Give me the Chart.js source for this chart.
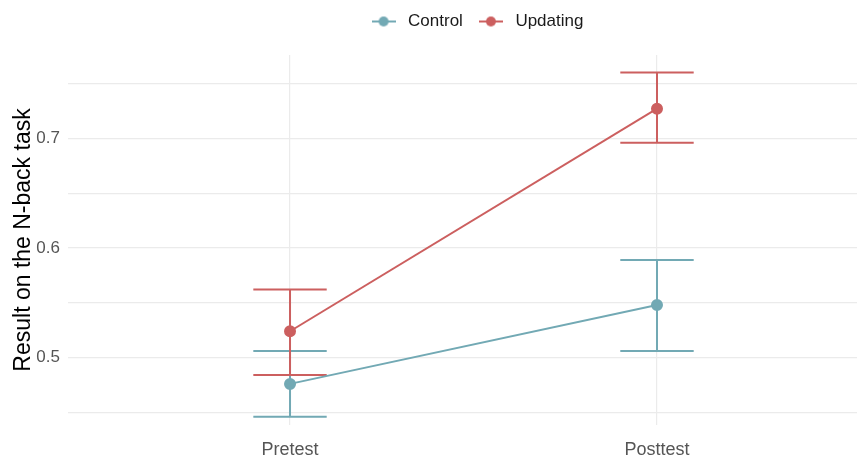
<!DOCTYPE html>
<html>
<head>
<meta charset="utf-8">
<script src="https://cdn.jsdelivr.net/npm/chart.js@4"></script>
<style>
  html, body { margin: 0; background: #fff; }
  #wrap { width: 864px; height: 458px; }
</style>
</head>
<body>
<div id="wrap"><canvas id="chart"></canvas></div>
<script>
const categories = ['Pretest', 'Posttest'];
const controlMean = [0.476, 0.548];
const controlLow = [0.446, 0.506];
const controlHigh = [0.506, 0.589];
const updatingMean = [0.524, 0.727];
const updatingLow = [0.484, 0.696];
const updatingHigh = [0.562, 0.760];
const yMajor = [0.5, 0.6, 0.7];
const yMinor = [0.45, 0.55, 0.65, 0.75];

const controlColor = '#72a9b4';
const updatingColor = '#cc5f5f';
const font = 'Liberation Sans, Arial, sans-serif';

// little line + dot used as legend key (like ggplot)
function legendKey(color) {
  const c = document.createElement('canvas');
  c.width = 24; c.height = 12;
  const g = c.getContext('2d');
  g.strokeStyle = color; g.lineWidth = 2;
  g.beginPath(); g.moveTo(0, 6); g.lineTo(24, 6); g.stroke();
  g.fillStyle = color;
  g.beginPath(); g.arc(12, 6, 5, 0, Math.PI * 2); g.fill();
  return c;
}

const errorBars = {
  id: 'errorBars',
  beforeDatasetsDraw(chart) {
    const ctx = chart.ctx;
    const xs = chart.scales.x, ys = chart.scales.y;
    chart.data.datasets.forEach((ds) => {
      ctx.save();
      ctx.strokeStyle = ds.borderColor;
      ctx.lineWidth = 2;
      ds.data.forEach((p, i) => {
        const x = xs.getPixelForValue(p.x);
        const half = xs.getPixelForValue(p.x + 0.1) - x;
        const yl = ys.getPixelForValue(ds.low[i]);
        const yh = ys.getPixelForValue(ds.high[i]);
        ctx.beginPath();
        ctx.moveTo(x, yl); ctx.lineTo(x, yh);
        ctx.moveTo(x - half, yl); ctx.lineTo(x + half, yl);
        ctx.moveTo(x - half, yh); ctx.lineTo(x + half, yh);
        ctx.stroke();
      });
      ctx.restore();
    });
  }
};

// extra room under the legend, and centre it over the panel like ggplot
const legendTweak = {
  id: 'legendTweak',
  beforeInit(chart) {
    const fit = chart.legend.fit;
    chart.legend.fit = function () {
      fit.call(this);
      this.height += 15;
    };
  },
  afterLayout(chart) {
    const lg = chart.legend;
    const shift = (chart.chartArea.left + chart.chartArea.right + 26) / 2 - (lg.left + lg.right) / 2;
    lg.left += shift;
    lg.right += shift;
  }
};

new Chart(document.getElementById('chart'), {
  type: 'line',
  data: {
    datasets: [
      {
        label: 'Control',
        data: controlMean.map((v, i) => ({ x: i + 1, y: v })),
        low: controlLow,
        high: controlHigh,
        borderColor: controlColor,
        backgroundColor: controlColor,
        borderWidth: 2,
        pointRadius: 5,
        pointHoverRadius: 5
      },
      {
        label: 'Updating',
        data: updatingMean.map((v, i) => ({ x: i + 1, y: v })),
        low: updatingLow,
        high: updatingHigh,
        borderColor: updatingColor,
        backgroundColor: updatingColor,
        borderWidth: 2,
        pointRadius: 5,
        pointHoverRadius: 5
      }
    ]
  },
  options: {
    responsive: true,
    maintainAspectRatio: false,
    animation: false,
    layout: { padding: { top: 1, right: 0, left: 0, bottom: 0 } },
    plugins: {
      tooltip: { enabled: false },
      legend: {
        position: 'top',
        labels: {
          usePointStyle: true,
          pointStyleWidth: 32,
          padding: 12,
          color: '#1a1a1a',
          font: { family: font, size: 17 },
          generateLabels(chart) {
            return chart.data.datasets.map((ds, i) => ({
              text: ds.label,
              pointStyle: legendKey(ds.borderColor),
              fillStyle: ds.borderColor,
              strokeStyle: ds.borderColor,
              lineWidth: 0,
              fontColor: '#1a1a1a',
              datasetIndex: i
            }));
          }
        },
        onClick: null
      }
    },
    scales: {
      x: {
        type: 'linear',
        min: 0.395,
        max: 2.545,
        afterBuildTicks(scale) {
          scale.ticks = categories.map((c, i) => ({ value: i + 1 }));
        },
        afterFit(scale) { scale.height = 33; },
        border: { display: false },
        grid: { color: '#ebebeb', lineWidth: 1.2, drawTicks: false },
        ticks: {
          padding: 14,
          color: '#555',
          font: { family: font, size: 18 },
          callback: (v) => categories[v - 1]
        }
      },
      y: {
        min: 0.4385,
        max: 0.776,
        afterBuildTicks(scale) {
          scale.ticks = yMinor.concat(yMajor).sort((a, b) => a - b).map(v => ({ value: v }));
        },
        afterFit(scale) { scale.width = 68; },
        border: { display: false },
        grid: { color: '#ebebeb', lineWidth: 1.2, drawTicks: false },
        title: {
          display: true,
          text: 'Result on the N-back task',
          color: '#000',
          padding: { top: 10, bottom: 0 },
          font: { family: font, size: 23 }
        },
        ticks: {
          padding: 8,
          color: '#555',
          font: { family: font, size: 17 },
          callback: (v) => yMajor.some(m => Math.abs(m - v) < 1e-9) ? v.toFixed(1) : ''
        }
      }
    }
  },
  plugins: [errorBars, legendTweak]
});
</script>
</body>
</html>
